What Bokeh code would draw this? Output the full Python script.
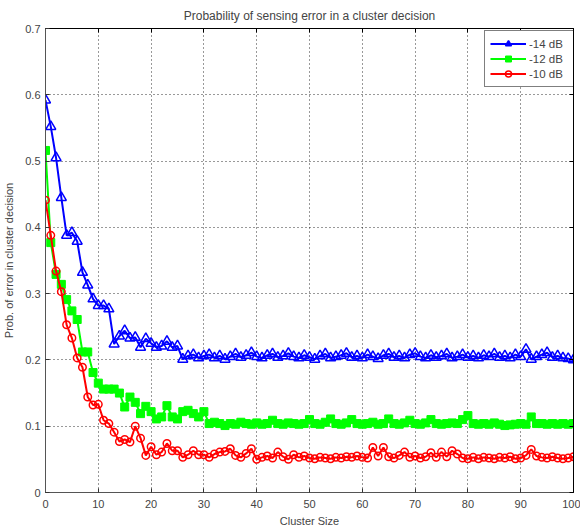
from bokeh.plotting import figure
from bokeh.models import Range1d, LinearAxis, Legend, LegendItem, FixedTicker
from bokeh.embed import file_html
from bokeh.resources import INLINE

cluster_size = list(range(0, 101))

db_minus14 = [
    0.592, 0.552, 0.505, 0.445, 0.388, 0.392, 0.379, 0.332, 0.313, 0.292,
    0.282, 0.282, 0.277, 0.224, 0.236, 0.244, 0.233, 0.234, 0.219, 0.232,
    0.225, 0.219, 0.221, 0.228, 0.219, 0.221, 0.201, 0.206, 0.208, 0.203,
    0.206, 0.208, 0.203, 0.206, 0.201, 0.205, 0.209, 0.204, 0.207, 0.211,
    0.205, 0.203, 0.207, 0.209, 0.204, 0.206, 0.210, 0.205, 0.203, 0.207,
    0.204, 0.201, 0.206, 0.209, 0.203, 0.205, 0.207, 0.210, 0.204, 0.206,
    0.203, 0.208, 0.205, 0.202, 0.207, 0.209, 0.204, 0.206, 0.203, 0.208,
    0.210, 0.205, 0.203, 0.207, 0.204, 0.206, 0.209, 0.203, 0.205, 0.208,
    0.204, 0.206, 0.203, 0.207, 0.205, 0.209, 0.204, 0.206, 0.203, 0.208,
    0.205, 0.216, 0.201, 0.205, 0.208, 0.211, 0.204, 0.206, 0.203, 0.202,
    0.200,
]

db_minus12 = [
    0.516, 0.377, 0.329, 0.314, 0.291, 0.274, 0.261, 0.212, 0.212, 0.181,
    0.165, 0.156, 0.156, 0.156, 0.150, 0.129, 0.144, 0.136, 0.119, 0.130,
    0.122, 0.111, 0.114, 0.131, 0.114, 0.111, 0.122, 0.124, 0.119, 0.114,
    0.122, 0.104, 0.106, 0.104, 0.101, 0.104, 0.103, 0.106, 0.104, 0.103,
    0.105, 0.103, 0.104, 0.109, 0.104, 0.103, 0.105, 0.104, 0.103, 0.104,
    0.110, 0.104, 0.103, 0.106, 0.111, 0.104, 0.103, 0.105, 0.110, 0.104,
    0.103, 0.104, 0.106, 0.103, 0.104, 0.111, 0.104, 0.103, 0.105, 0.109,
    0.104, 0.103, 0.105, 0.110, 0.104, 0.103, 0.104, 0.105, 0.104, 0.110,
    0.116, 0.104, 0.103, 0.104, 0.103, 0.105, 0.103, 0.101, 0.102, 0.103,
    0.104, 0.103, 0.114, 0.104, 0.104, 0.103, 0.104, 0.103, 0.104, 0.103,
    0.104,
]

db_minus10 = [
    0.441, 0.388, 0.334, 0.303, 0.253, 0.233, 0.203, 0.189, 0.144, 0.132,
    0.133, 0.109, 0.104, 0.091, 0.077, 0.080, 0.076, 0.100, 0.082, 0.056,
    0.069, 0.057, 0.061, 0.074, 0.063, 0.063, 0.053, 0.057, 0.063, 0.057,
    0.057, 0.053, 0.058, 0.061, 0.062, 0.066, 0.056, 0.053, 0.059, 0.066,
    0.050, 0.053, 0.055, 0.052, 0.061, 0.054, 0.050, 0.057, 0.053, 0.055,
    0.052, 0.051, 0.053, 0.052, 0.051, 0.053, 0.052, 0.054, 0.053, 0.055,
    0.053, 0.052, 0.068, 0.055, 0.068, 0.054, 0.052, 0.056, 0.061, 0.053,
    0.055, 0.052, 0.054, 0.060, 0.053, 0.061, 0.054, 0.063, 0.058, 0.052,
    0.051, 0.053, 0.051, 0.053, 0.052, 0.051, 0.053, 0.052, 0.054, 0.051,
    0.052, 0.056, 0.065, 0.055, 0.053, 0.052, 0.054, 0.052, 0.051, 0.052,
    0.054,
]

series_labels = ["-14 dB", "-12 dB", "-10 dB"]
x_ticks = [0, 10, 20, 30, 40, 50, 60, 70, 80, 90, 100]
y_ticks = [0, 0.1, 0.2, 0.3, 0.4, 0.5, 0.6, 0.7]
y_tick_labels = ["0", "0.1", "0.2", "0.3", "0.4", "0.5", "0.6", "0.7"]

FONT = "Liberation Sans"

p = figure(width=580, height=529, output_backend="svg", toolbar_location=None,
           x_range=Range1d(0, 100), y_range=Range1d(0, 0.7),
           title="Probability of sensing error in a cluster decision",
           x_axis_label="Cluster Size",
           y_axis_label="Prob. of error in cluster decision",
           min_border_left=43, min_border_right=7, min_border_top=28, min_border_bottom=35)

p.title.align = "center"
p.title.text_font = FONT
p.title.text_font_size = "12px"
p.title.text_font_style = "normal"
p.title.standoff = 11
p.outline_line_color = "black"
p.outline_line_width = 1
p.background_fill_color = "white"
p.border_fill_color = "white"

for ax in p.xaxis + p.yaxis:
    ax.axis_label_text_font = FONT
    ax.axis_label_text_font_size = "11px"
    ax.axis_label_text_font_style = "normal"
    ax.major_label_text_font = FONT
    ax.major_label_text_font_size = "11px"
    ax.major_tick_in = 4
    ax.major_tick_out = 0
    ax.minor_tick_line_color = None
    ax.axis_line_color = "#555555"
    ax.major_tick_line_color = "#333333"

p.xaxis.major_label_standoff = 7
p.xaxis.axis_label_standoff = 4
p.yaxis.major_label_standoff = 5
p.yaxis.axis_label_standoff = 7

p.xaxis.ticker = FixedTicker(ticks=x_ticks)
p.yaxis.ticker = FixedTicker(ticks=y_ticks)
p.yaxis.major_label_overrides = {t: l for t, l in zip(y_ticks, y_tick_labels)}

top_ax = LinearAxis(ticker=FixedTicker(ticks=x_ticks),
                    major_label_overrides={t: "" for t in x_ticks},
                    major_label_standoff=0,
                    major_tick_in=4, major_tick_out=0, minor_tick_line_color=None,
                    axis_line_color="black")
right_ax = LinearAxis(ticker=FixedTicker(ticks=y_ticks),
                      major_label_overrides={t: "" for t in y_ticks},
                      major_label_standoff=0,
                      major_tick_in=4, major_tick_out=0, minor_tick_line_color=None,
                      axis_line_color="black")
p.add_layout(top_ax, "above")
p.add_layout(right_ax, "right")

for g in (p.xgrid, p.ygrid):
    g.grid_line_color = "black"
    g.grid_line_dash = "1 3"
    g.grid_line_width = 1
    g.grid_line_alpha = 0.8
p.xgrid.ticker = FixedTicker(ticks=x_ticks)
p.ygrid.ticker = FixedTicker(ticks=y_ticks)

l1 = p.line(cluster_size, db_minus14, line_color="blue", line_width=2)
s1 = p.scatter(cluster_size, db_minus14, marker="triangle", size=10,
               line_color="blue", fill_color=None, line_width=1.5)
l2 = p.line(cluster_size, db_minus12, line_color="#00ff00", line_width=2)
s2 = p.scatter(cluster_size, db_minus12, marker="square", size=8,
               line_color="#00ff00", fill_color="#00ff00", line_width=1)
l3 = p.line(cluster_size, db_minus10, line_color="red", line_width=2)
s3 = p.scatter(cluster_size, db_minus10, marker="circle", size=7.5,
               line_color="red", fill_color=None, line_width=1.5)

legend = Legend(items=[
    LegendItem(label=series_labels[0], renderers=[l1, s1]),
    LegendItem(label=series_labels[1], renderers=[l2, s2]),
    LegendItem(label=series_labels[2], renderers=[l3, s3]),
], location=(439, 405))
legend.label_text_font = FONT
legend.label_text_font_size = "11.5px"
legend.border_line_color = "black"
legend.border_line_width = 1
legend.margin = 0
legend.padding = 5
legend.spacing = 0
legend.label_height = 15
legend.label_width = 40
legend.glyph_height = 15
legend.glyph_width = 36
legend.label_standoff = 3
legend.background_fill_alpha = 1
p.add_layout(legend, "center")

open("out.html", "w").write(file_html(p, INLINE))
